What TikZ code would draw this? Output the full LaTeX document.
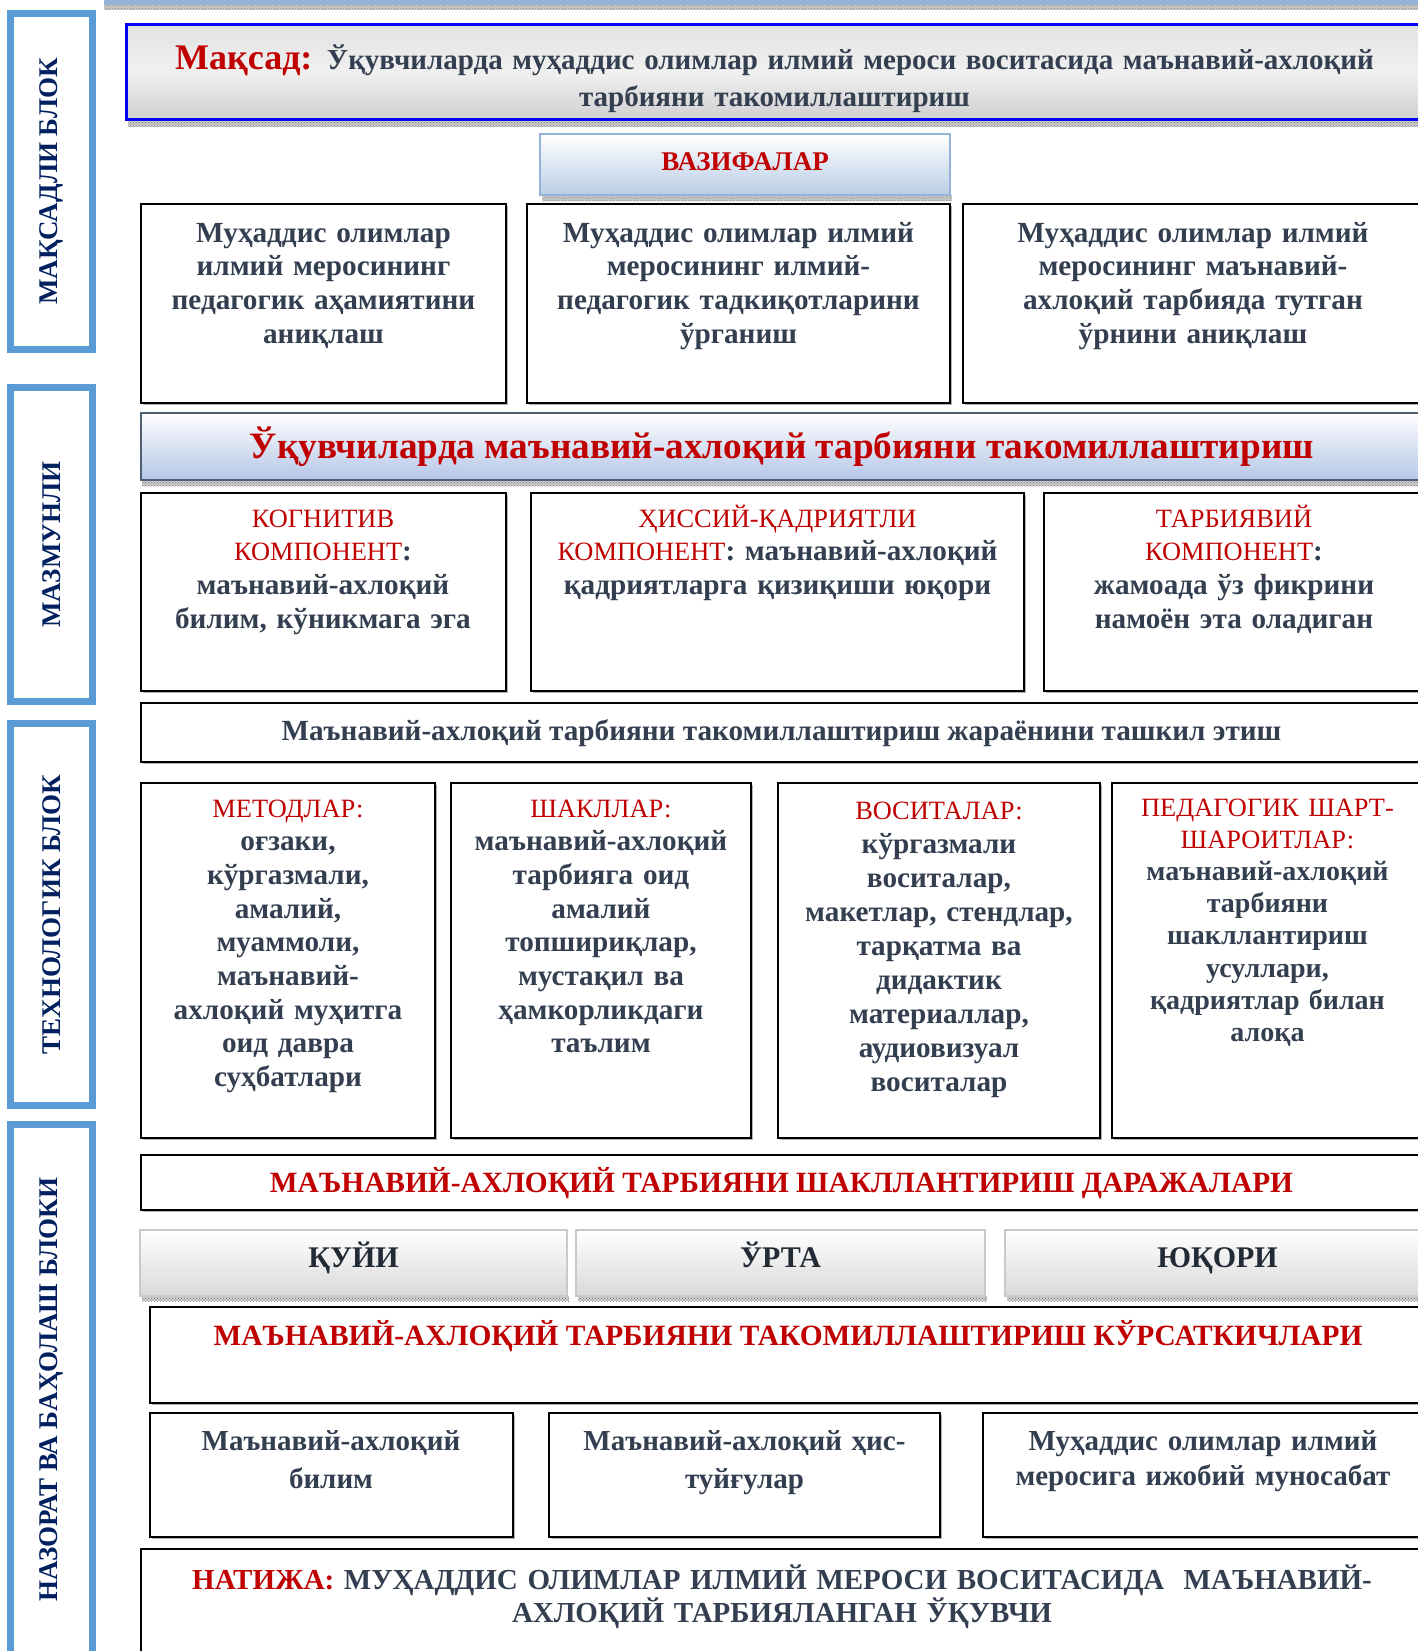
\documentclass[tikz,border=0pt]{standalone}
\usepackage{fontspec}
\setmainfont{Liberation Serif}
\usetikzlibrary{patterns,shadows}
\newcommand{\fsz}[2]{\fontsize{#1}{#2}\selectfont}
\newcommand{\hd}[1]{{\color{alarm}\mdseries\fontsize{26.4}{33.7}\selectfont #1}}

\begin{document}
\begin{tikzpicture}[x=1pt, y=-1pt,
    blockframe/.style={draw=blockBlue, line width=7pt},
    blocklabel/.style={rotate=90, inner sep=0pt, text=blockInk, font=\fsz{27}{30}\bfseries},
    frame/.style={draw=black, line width=2pt, fill=white,
        drop shadow={shadow xshift=1.5pt, shadow yshift=-1.5pt, fill=gray!60, opacity=1}},
    dotshade/.style={fill=gray!40, postaction={pattern=crosshatch dots, pattern color=black!55}},
    body/.style={align=center, inner sep=0pt, text=ink, font=\fsz{29.2}{33.7}\bfseries},
    levelbox/.style={draw=levelEdge, line width=2pt, top color=white, bottom color=levelFill}]

    % Farben
    \definecolor{ink}{HTML}{333F50}
    \definecolor{alarm}{HTML}{C00000}
    \definecolor{blockInk}{HTML}{002060}
    \definecolor{blockBlue}{HTML}{5B9BD5}
    \definecolor{stripBlue}{HTML}{95B3D7}
    \definecolor{pureBlue}{HTML}{0000FF}
    \definecolor{taskFill}{HTML}{B9CDE5}
    \definecolor{titleEdge}{HTML}{4F5F73}
    \definecolor{titleFill}{HTML}{B4C6E7}
    \definecolor{levelEdge}{HTML}{C9C9C9}
    \definecolor{levelFill}{HTML}{D9D9D9}
    \definecolor{levelInk}{HTML}{222B35}
    \definecolor{goalTop}{HTML}{E2E2E2}
    \definecolor{goalMid}{HTML}{F0F0F0}
    \definecolor{goalBot}{HTML}{D0D0D0}

    \useasboundingbox (0,0) rectangle (1418,1651);
    \clip (0,0) rectangle (1418,1651);
    \fill[white] (0,0) rectangle (1418,1651);

    % Streifen oben
    \fill[stripBlue] (104,0) rectangle (1423,5);
    \path[dotshade] (104,5) rectangle (1423,10);

    % Bloecke links: oben / unten / Text
    \foreach \a/\b/\t [count=\i] in {
        13.5/349.5/МАҚСАДЛИ БЛОК,
        387.5/701.5/МАЗМУНЛИ,
        723.5/1105.5/ТЕХНОЛОГИК БЛОК,
        1124.5/1655/НАЗОРАТ ВА БАҲОЛАШ БЛОКИ}
    {
        \draw[blockframe] (10.5,\a) rectangle (92.5,\b);
        \node[blocklabel] (block\i) at (51.5,{(\a+\b)/2}) {\t};
    }

    % Maqsad
    \path[dotshade] (128,121) rectangle (1423,127);
    \draw[draw=pureBlue, line width=3pt, top color=goalTop, bottom color=goalBot, middle color=goalMid]
        (126.5,24.5) rectangle (1423,119.5);
    \node[body, anchor=base, text width=1280, font=\fsz{29}{37}\bfseries] (goal) at (774.5,70)
        {{\fsz{36}{37}\color{alarm}Мақсад:} Ўқувчиларда муҳаддис олимлар илмий мероси воситасида маънавий-ахлоқий\\тарбияни такомиллаштириш};

    % Vazifalar
    \path[dotshade] (542,195) rectangle (952,201);
    \draw[draw=stripBlue, line width=2pt, top color=white, bottom color=taskFill] (540,134) rectangle (950,195);
    \node[body, anchor=base, text=alarm, font=\fsz{27}{30}\bfseries] (tasks) at (745,170) {ВАЗИФАЛАР};

    \draw[frame] (141,204) rectangle (506,403);
    \draw[frame] (527,204) rectangle (950,403);
    \draw[frame] (963,204) rectangle (1430,403);
    \node[body, anchor=base, text width=360] (task1) at (323.5,242)
        {Муҳаддис олимлар\\илмий меросининг\\педагогик аҳамиятини\\аниқлаш};
    \node[body, anchor=base, text width=410] (task2) at (738.5,242)
        {Муҳаддис олимлар илмий\\меросининг илмий-\\педагогик тадкиқотларини\\ўрганиш};
    \node[body, anchor=base, text width=440] (task3) at (1193,242)
        {Муҳаддис олимлар илмий\\меросининг маънавий-\\ахлоқий тарбияда тутган\\ўрнини аниқлаш};

    % Titel
    \path[dotshade] (142,480) rectangle (1423,486);
    \draw[draw=titleEdge, line width=2.5pt, top color=white, bottom color=titleFill] (141,413) rectangle (1430,480);
    \node[body, anchor=base, text=alarm, font=\fsz{37.2}{40}\bfseries] (title) at (782,458)
        {Ўқувчиларда маънавий-ахлоқий тарбияни такомиллаштириш};

    % Komponentlar
    \draw[frame] (141,493) rectangle (506,691);
    \draw[frame] (531,493) rectangle (1024,691);
    \draw[frame] (1044,493) rectangle (1430,691);
    \node[body, anchor=base, text width=360] (cognitive) at (323,527)
        {\hd{КОГНИТИВ\\КОМПОНЕНТ}:\\маънавий-ахлоқий\\билим, кўникмага эга};
    \node[body, anchor=base, text width=480] (emotive) at (777.5,527)
        {\hd{ҲИССИЙ-ҚАДРИЯТЛИ\\КОМПОНЕНТ}: маънавий-ахлоқий\\қадриятларга қизиқиши юқори};
    \node[body, anchor=base, text width=370] (educative) at (1234,527)
        {\hd{ТАРБИЯВИЙ\\КОМПОНЕНТ}:\\жамоада ўз фикрини\\намоён эта оладиган};

    % Jarayon
    \draw[frame] (141,703) rectangle (1430,762);
    \node[body, anchor=base] (process) at (781.5,740)
        {Маънавий-ахлоқий тарбияни такомиллаштириш жараёнини ташкил этиш};

    % Metodlar, shakllar, vositalar, shart-sharoitlar
    \draw[frame] (141,783) rectangle (435,1138);
    \draw[frame] (451,783) rectangle (751,1138);
    \draw[frame] (778,783) rectangle (1100,1138);
    \draw[frame] (1112,783) rectangle (1430,1138);
    \node[body, anchor=base, text width=285] (methods) at (288,817)
        {\hd{МЕТОДЛАР:}\\оғзаки,\\кўргазмали,\\амалий,\\муаммоли,\\маънавий-\\ахлоқий муҳитга\\оид давра\\суҳбатлари};
    \node[body, anchor=base, text width=290] (forms) at (601,817)
        {\hd{ШАКЛЛАР:}\\маънавий-ахлоқий\\тарбияга оид\\амалий\\топшириқлар,\\мустақил ва\\ҳамкорликдаги\\таълим};
    \node[body, anchor=base, text width=315, font=\fsz{29.2}{34.1}\bfseries] (means) at (939,819)
        {\hd{ВОСИТАЛАР:}\\кўргазмали\\воситалар,\\макетлар, стендлар,\\тарқатма ва\\дидактик\\материаллар,\\аудиовизуал\\воситалар};
    \node[body, anchor=base, text width=305, font=\fsz{28}{32.2}\bfseries] (terms) at (1267.5,816)
        {\hd{ПЕДАГОГИК ШАРТ-\\ШАРОИТЛАР:}\\маънавий-ахлоқий\\тарбияни\\шакллантириш\\усуллари,\\қадриятлар билан\\алоқа};

    % Darajalar
    \draw[frame] (141,1155) rectangle (1430,1210);
    \node[body, anchor=base, text=alarm, font=\fsz{29.4}{33}\bfseries] (levels) at (781.5,1192)
        {МАЪНАВИЙ-АХЛОҚИЙ ТАРБИЯНИ ШАКЛЛАНТИРИШ ДАРАЖАЛАРИ};
    \foreach \a/\b/\t [count=\i] in {140/567/ҚУЙИ, 576/985/ЎРТА, 1005/1430/ЮҚОРИ}
    {
        \path[dotshade] (\a+2,1296) rectangle (\b+2,1301);
        \draw[levelbox] (\a,1230) rectangle (\b,1296);
        \node[body, anchor=base, text=levelInk, font=\fsz{30}{33}\bfseries] (level\i) at ({(\a+\b)/2},1267) {\t};
    }

    % Korsatkichlar
    \draw[frame] (150,1307) rectangle (1430,1403);
    \node[body, anchor=base, text=alarm, font=\fsz{29.4}{33}\bfseries] (marks) at (788,1345)
        {МАЪНАВИЙ-АХЛОҚИЙ ТАРБИЯНИ ТАКОМИЛЛАШТИРИШ КЎРСАТКИЧЛАРИ};
    \draw[frame] (150,1413) rectangle (513,1537);
    \draw[frame] (549,1413) rectangle (940,1537);
    \draw[frame] (983,1413) rectangle (1430,1537);
    \node[body, anchor=base, text width=355, font=\fsz{29}{38}\bfseries] (mark1) at (331,1450)
        {Маънавий-ахлоқий\\билим};
    \node[body, anchor=base, text width=385, font=\fsz{29}{38}\bfseries] (mark2) at (744.5,1450)
        {Маънавий-ахлоқий ҳис-\\туйғулар};
    \node[body, anchor=base, text width=430, font=\fsz{29}{35}\bfseries] (mark3) at (1203,1450)
        {Муҳаддис олимлар илмий\\меросига ижобий муносабат};

    % Natija
    \draw[frame] (141,1549) rectangle (1430,1670);
    \node[body, anchor=base, text width=1270, font=\fsz{29}{33}\bfseries] (result) at (782,1589)
        {{\color{alarm}НАТИЖА:} МУҲАДДИС ОЛИМЛАР ИЛМИЙ МЕРОСИ ВОСИТАСИДА\ \ МАЪНАВИЙ-\\АХЛОҚИЙ ТАРБИЯЛАНГАН ЎҚУВЧИ};
\end{tikzpicture}
\end{document}
